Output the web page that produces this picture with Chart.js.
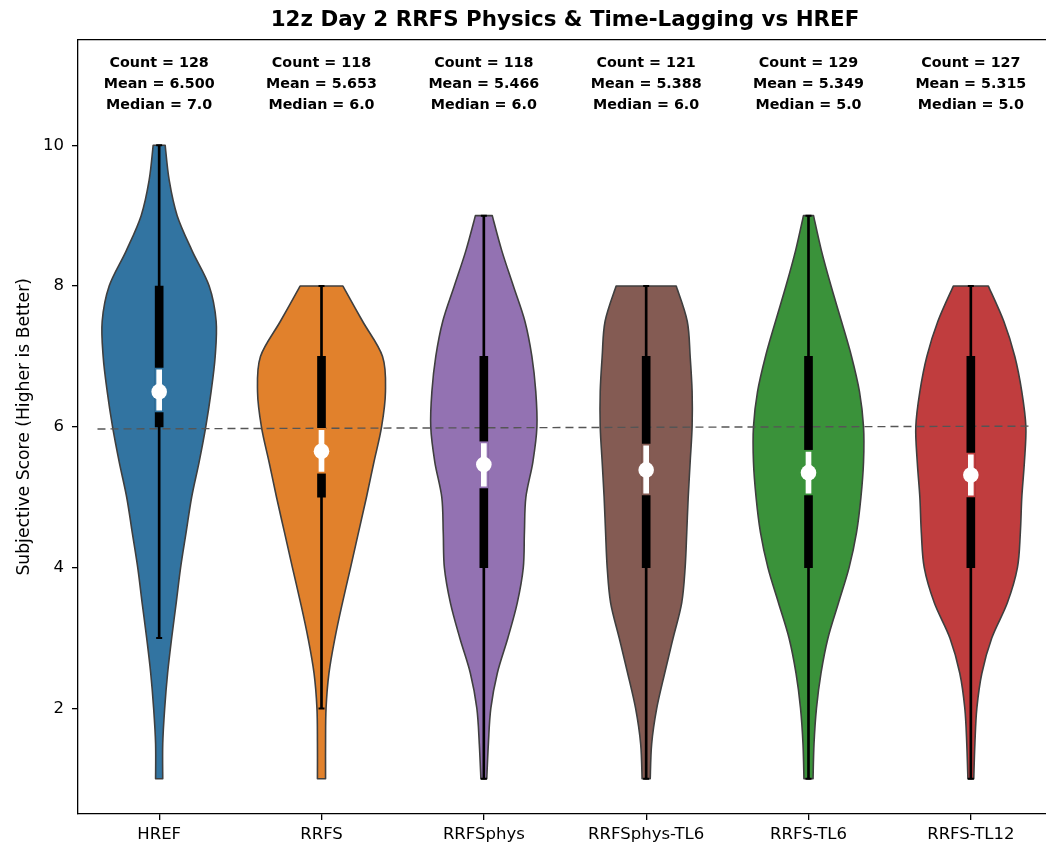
<!DOCTYPE html>
<html><head><meta charset="utf-8">
<script src="https://cdn.jsdelivr.net/npm/chart.js@4.4.1/dist/chart.umd.min.js"></script>
<style>html,body{margin:0;padding:0;background:#fff;overflow:hidden}#wrap{width:1060px;height:845px}</style>
</head><body><div id="wrap"><canvas id="c" width="1060" height="845"></canvas></div>
<script>
const categories = ['HREF','RRFS','RRFSphys','RRFSphys-TL6','RRFS-TL6','RRFS-TL12'];
const counts  = [128, 118, 118, 121, 129, 127];
const means   = [6.500, 5.653, 5.466, 5.388, 5.349, 5.315];
const medians = [7.0, 6.0, 6.0, 6.0, 5.0, 5.0];
const whiskerLow  = [3, 2, 1, 1, 1, 1];
const whiskerHigh = [10, 8, 9, 8, 9, 8];
const q1 = [6, 5, 4, 4, 4, 4];
const q3 = [8, 7, 7, 7, 7, 7];
const ciLow  = [6.21, 5.34, 5.13, 5.03, 5.03, 5.00];
const ciHigh = [6.84, 5.98, 5.79, 5.76, 5.67, 5.63];
const yTicks = [2, 4, 6, 8, 10];
const refLineX = [-0.38, 5.38];
const refLineY = [5.97, 6.01];
// violin half-widths (category units) at each score level
const scoreGrid = [1, 1.5, 2, 2.5, 3, 3.5, 4, 4.5, 5, 5.5, 6, 6.5, 7, 7.5, 8, 8.5, 9, 9.5, 10];
const densHREF      = [.022,.022,.034,.052,.077,.105,.132,.166,.200,.246,.287,.320,.345,.351,.308,.203,.111,.062,.037];
const densRRFS      = [.025,.025,.028,.046,.083,.129,.179,.228,.277,.323,.370,.394,.376,.253,.132,null,null,null,null];
const densRRFSphys  = [.018,.028,.043,.083,.148,.206,.243,.250,.259,.302,.327,.320,.296,.253,.182,.111,.052,null,null];
const densPhysTL6   = [.025,.034,.065,.114,.166,.219,.240,.250,.259,.271,.283,.283,.271,.253,.185,null,null,null,null];
const densTL6       = [.028,.034,.049,.077,.120,.185,.250,.296,.323,.339,.339,.314,.265,.203,.139,.080,.031,null,null];
const densTL12      = [.018,.025,.037,.068,.129,.225,.287,.305,.314,.330,.339,.314,.271,.203,.108,null,null,null,null];
const densities = [densHREF, densRRFS, densRRFSphys, densPhysTL6, densTL6, densTL12];
const colors = ['#3274a1','#e1812c','#9372b2','#845b53','#3a923a','#c03d3e'];

function spline(ctx, pts) {
  for (let i = 0; i < pts.length - 1; i++) {
    const p0 = pts[Math.max(i - 1, 0)], p1 = pts[i], p2 = pts[i + 1], p3 = pts[Math.min(i + 2, pts.length - 1)];
    ctx.bezierCurveTo(p1[0] + (p2[0] - p0[0]) / 6, p1[1] + (p2[1] - p0[1]) / 6,
                      p2[0] - (p3[0] - p1[0]) / 6, p2[1] - (p3[1] - p1[1]) / 6, p2[0], p2[1]);
  }
}

const violinPlugin = {
  id: 'violins',
  beforeDatasetsDraw(chart) {
    const {ctx, scales: {x, y}, chartArea} = chart;
    ctx.save();
    ctx.beginPath();
    ctx.rect(chartArea.left, chartArea.top, chartArea.width, chartArea.height);
    ctx.clip();
    densities.forEach((dens, i) => {
      const left = [], right = [];
      dens.forEach((d, k) => {
        if (d == null) return;
        const py = y.getPixelForValue(scoreGrid[k]);
        left.push([x.getPixelForValue(i - d), py]);
        right.push([x.getPixelForValue(i + d), py]);
      });
      ctx.beginPath();
      ctx.moveTo(left[0][0], left[0][1]);
      spline(ctx, left);
      const rt = right.slice().reverse();
      ctx.lineTo(rt[0][0], rt[0][1]);
      spline(ctx, rt);
      ctx.closePath();
      ctx.fillStyle = colors[i];
      ctx.fill();
      ctx.lineWidth = 1.6;
      ctx.lineJoin = 'round';
      ctx.strokeStyle = '#3f3f3f';
      ctx.stroke();
    });
    ctx.restore();
  },
  afterDatasetsDraw(chart) {
    const {ctx, scales: {x, y}} = chart;
    ctx.save();
    ctx.font = 'bold 14.3px "DejaVu Sans"';
    ctx.fillStyle = '#000';
    ctx.textAlign = 'center';
    ctx.textBaseline = 'middle';
    categories.forEach((c, i) => {
      const px = x.getPixelForValue(i);
      ctx.fillText('Count = ' + counts[i], px, y.getPixelForValue(11.16));
      ctx.fillText('Mean = ' + means[i].toFixed(3), px, y.getPixelForValue(10.865));
      ctx.fillText('Median = ' + medians[i].toFixed(1), px, y.getPixelForValue(10.57));
    });
    ctx.restore();
  },
  afterDraw(chart) {
    const {ctx, chartArea: a} = chart;
    ctx.save();
    ctx.strokeStyle = '#000';
    ctx.lineWidth = 1.3;
    ctx.beginPath();
    ctx.moveTo(a.left, a.top); ctx.lineTo(a.right, a.top); ctx.lineTo(a.right, a.bottom);
    ctx.stroke();
    ctx.restore();
  }
};

const idx = categories.map((c, i) => i);
new Chart(document.getElementById('c'), {
  data: {
    datasets: [
      { type: 'line', label: 'ref', data: refLineX.map((v, k) => ({x: v, y: refLineY[k]})),
        borderColor: '#555', borderWidth: 1.4, borderDash: [8, 5], pointRadius: 0, fill: false, order: 9 },
      { type: 'bar', label: 'whisker', data: idx.map(i => ({x: i, y: [whiskerLow[i], whiskerHigh[i]]})),
        backgroundColor: '#000', barThickness: 2, order: 8 },
      { type: 'scatter', label: 'caps', data: idx.flatMap(i => [{x: i, y: whiskerLow[i]}, {x: i, y: whiskerHigh[i]}]),
        pointStyle: 'line', pointRadius: 3, borderColor: '#000', borderWidth: 2, order: 7 },
      { type: 'bar', label: 'iqr', data: idx.map(i => ({x: i, y: [q1[i], q3[i]]})),
        backgroundColor: '#000', barThickness: 8, order: 6 },
      { type: 'bar', label: 'ci', data: idx.map(i => ({x: i, y: [ciLow[i], ciHigh[i]]})),
        backgroundColor: '#fff', borderColor: colors, borderWidth: 2, borderSkipped: false, barThickness: 9, order: 5 },
      { type: 'scatter', label: 'mean', data: idx.map(i => ({x: i, y: means[i]})),
        pointRadius: 7.8, backgroundColor: '#fff', borderWidth: 0, order: 4 }
    ]
  },
  options: {
    responsive: false,
    animation: false,
    layout: { padding: { left: 0, right: 8, top: 0, bottom: 0 } },
    datasets: { bar: { grouped: false } },
    plugins: {
      legend: { display: false },
      tooltip: { enabled: false },
      title: { display: true, text: '12z Day 2 RRFS Physics & Time-Lagging vs HREF', fullSize: false,
        color: '#000', font: { family: 'DejaVu Sans', size: 21.4, weight: 'bold' }, padding: { top: 8, bottom: 6 } }
    },
    scales: {
      x: {
        type: 'linear', min: -0.5, max: 5.5, offset: false,
        afterBuildTicks: s => { s.ticks = idx.map(i => ({value: i})); },
        afterFit: s => { s.height = 31; },
        ticks: { callback: v => categories[v], autoSkip: false, maxRotation: 0, color: '#000',
          font: { family: 'DejaVu Sans', size: 16.5 }, padding: 5 },
        grid: { display: true, offset: false, drawOnChartArea: false, drawTicks: true, tickLength: 6, color: '#000', lineWidth: 1.3 },
        border: { display: true, color: '#000', width: 1.3 }
      },
      y: {
        type: 'linear', min: 0.5, max: 11.5,
        afterBuildTicks: s => { s.ticks = yTicks.map(v => ({value: v})); },
        afterFit: s => { s.width = 78; },
        ticks: { color: '#000', font: { family: 'DejaVu Sans', size: 16.5 }, padding: 8 },
        grid: { display: true, offset: false, drawOnChartArea: false, drawTicks: true, tickLength: 6, color: '#000', lineWidth: 1.3 },
        border: { display: true, color: '#000', width: 1.3 },
        title: { display: true, text: 'Subjective Score (Higher is Better)', color: '#000',
          font: { family: 'DejaVu Sans', size: 17.2 }, padding: { top: 14, bottom: 0 } }
      }
    }
  },
  plugins: [violinPlugin]
});
</script>
</body></html>
